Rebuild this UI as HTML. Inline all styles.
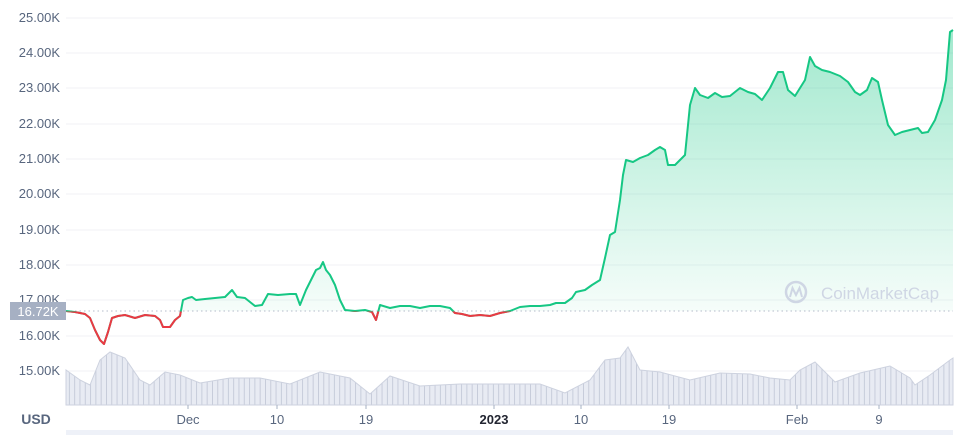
<!DOCTYPE html><html><head><style>body{margin:0;background:#fff}svg{display:block;font-family:"Liberation Sans",sans-serif}</style></head><body>
<svg width="975" height="435" viewBox="0 0 975 435">
<defs>
<linearGradient id="gg" x1="0" y1="30" x2="0" y2="311" gradientUnits="userSpaceOnUse"><stop offset="0" stop-color="#16c784" stop-opacity="0.4"/><stop offset="1" stop-color="#16c784" stop-opacity="0.04"/></linearGradient>
<pattern id="vp" width="5.3" height="10" patternUnits="userSpaceOnUse"><rect width="5.3" height="10" fill="#e8ebf3"/><rect x="0" width="0.9" height="10" fill="#c4c9d8"/></pattern>
<clipPath id="above"><rect x="0" y="0" width="975" height="311"/></clipPath>
<clipPath id="below"><rect x="0" y="311.5" width="975" height="100"/></clipPath>
</defs>
<g stroke="#f1f2f6" stroke-width="1">
<line x1="66" x2="953" y1="18" y2="18"/><line x1="66" x2="953" y1="53" y2="53"/><line x1="66" x2="953" y1="88" y2="88"/><line x1="66" x2="953" y1="124" y2="124"/><line x1="66" x2="953" y1="159" y2="159"/><line x1="66" x2="953" y1="194" y2="194"/><line x1="66" x2="953" y1="230" y2="230"/><line x1="66" x2="953" y1="265" y2="265"/><line x1="66" x2="953" y1="300" y2="300"/><line x1="66" x2="953" y1="336" y2="336"/><line x1="66" x2="953" y1="371" y2="371"/>
</g>
<g fill="#58667e" font-size="13" text-anchor="end">
<text x="60" y="22">25.00K</text><text x="60" y="57">24.00K</text><text x="60" y="92">23.00K</text><text x="60" y="128">22.00K</text><text x="60" y="163">21.00K</text><text x="60" y="198">20.00K</text><text x="60" y="234">19.00K</text><text x="60" y="269">18.00K</text><text x="60" y="304">17.00K</text><text x="60" y="340">16.00K</text><text x="60" y="375">15.00K</text>
</g>
<path d="M66 405 L66 370 L80 380 L90 385 L100 360 L110 352 L125 358 L140 380 L150 385 L165 372 L180 375 L200 383 L230 378 L260 378 L290 384 L320 372 L350 378 L370 394 L390 376 L420 386 L460 384 L500 384 L540 384 L565 393 L590 380 L605 360 L620 358 L628 347 L640 370 L660 372 L690 380 L720 373 L750 374 L770 378 L790 380 L800 370 L815 362 L835 382 L860 373 L890 366 L910 378 L915 385 L930 375 L950 360 L953 358 L953 405 Z" fill="url(#vp)" stroke="#cdd2df" stroke-width="1"/>
<path d="M66 311 L75 312 L85 314 L90 318 L95 330 L100 340 L104 344 L108 332 L112 318 L118 316 L125 315 L135 318 L145 315 L155 316 L160 320 L163 327 L170 327 L175 320 L180 316 L183 300 L188 298 L192 297 L196 300 L205 299 L215 298 L225 297 L232 290 L237 297 L245 298 L255 306 L262 305 L268 294 L278 295 L290 294 L296 294 L300 305 L306 290 L312 278 L316 270 L320 268 L323 262 L326 270 L330 275 L335 285 L340 300 L345 310 L355 311 L365 310 L372 312 L376 320 L380 305 L390 308 L400 306 L410 306 L420 308 L430 306 L440 306 L450 308 L455 313 L462 314 L470 316 L480 315 L490 316 L500 313 L510 311 L520 307 L530 306 L540 306 L550 305 L556 303 L565 303 L572 298 L576 292 L585 290 L592 285 L600 280 L605 258 L610 235 L615 232 L620 200 L623 175 L626 160 L633 162 L640 158 L648 155 L655 150 L660 147 L665 150 L668 165 L675 165 L680 160 L685 155 L690 105 L695 88 L700 95 L708 98 L715 93 L722 97 L730 96 L740 88 L748 92 L755 94 L762 100 L770 88 L778 72 L783 72 L788 90 L795 96 L800 88 L805 80 L810 57 L815 66 L822 70 L830 72 L840 76 L848 82 L855 92 L860 95 L867 90 L872 78 L878 82 L882 100 L888 125 L895 135 L902 132 L910 130 L918 128 L922 133 L928 132 L935 120 L942 100 L946 80 L950 32 L953 30 L953 311 L66 311 Z" fill="url(#gg)" clip-path="url(#above)"/>
<text x="880" y="299" font-size="17" fill="#cfd6e4" text-anchor="middle">CoinMarketCap</text>
<circle cx="796" cy="292" r="10" fill="none" stroke="#cfd6e4" stroke-width="2.5"/>
<path d="M790 297 L792.5 288 L796 295 L799.5 288 L802 297" fill="none" stroke="#cfd6e4" stroke-width="2"/>
<line x1="66" x2="953" y1="311" y2="311" stroke="#b5bccb" stroke-dasharray="1.5 3"/>
<path d="M66 311 L75 312 L85 314 L90 318 L95 330 L100 340 L104 344 L108 332 L112 318 L118 316 L125 315 L135 318 L145 315 L155 316 L160 320 L163 327 L170 327 L175 320 L180 316 L183 300 L188 298 L192 297 L196 300 L205 299 L215 298 L225 297 L232 290 L237 297 L245 298 L255 306 L262 305 L268 294 L278 295 L290 294 L296 294 L300 305 L306 290 L312 278 L316 270 L320 268 L323 262 L326 270 L330 275 L335 285 L340 300 L345 310 L355 311 L365 310 L372 312 L376 320 L380 305 L390 308 L400 306 L410 306 L420 308 L430 306 L440 306 L450 308 L455 313 L462 314 L470 316 L480 315 L490 316 L500 313 L510 311 L520 307 L530 306 L540 306 L550 305 L556 303 L565 303 L572 298 L576 292 L585 290 L592 285 L600 280 L605 258 L610 235 L615 232 L620 200 L623 175 L626 160 L633 162 L640 158 L648 155 L655 150 L660 147 L665 150 L668 165 L675 165 L680 160 L685 155 L690 105 L695 88 L700 95 L708 98 L715 93 L722 97 L730 96 L740 88 L748 92 L755 94 L762 100 L770 88 L778 72 L783 72 L788 90 L795 96 L800 88 L805 80 L810 57 L815 66 L822 70 L830 72 L840 76 L848 82 L855 92 L860 95 L867 90 L872 78 L878 82 L882 100 L888 125 L895 135 L902 132 L910 130 L918 128 L922 133 L928 132 L935 120 L942 100 L946 80 L950 32 L953 30" fill="none" stroke="#16c784" stroke-width="2" stroke-linejoin="round"/>
<path clip-path="url(#below)" d="M66 311 L75 312 L85 314 L90 318 L95 330 L100 340 L104 344 L108 332 L112 318 L118 316 L125 315 L135 318 L145 315 L155 316 L160 320 L163 327 L170 327 L175 320 L180 316 L183 300 L188 298 L340 300 L345 310 L355 311 L365 310 L372 312 L376 320 L380 305 L390 308 L450 308 L455 313 L462 314 L470 316 L480 315 L490 316 L500 313 L510 311 L520 307" fill="none" stroke="#ea3943" stroke-width="2" stroke-linejoin="round"/>
<rect x="66" y="430" width="887" height="5" fill="#eef1f8"/>
<g stroke="#a6b0c3"><line x1="188" x2="188" y1="405" y2="409"/><line x1="277" x2="277" y1="405" y2="409"/><line x1="366" x2="366" y1="405" y2="409"/><line x1="494" x2="494" y1="405" y2="409"/><line x1="581" x2="581" y1="405" y2="409"/><line x1="669" x2="669" y1="405" y2="409"/><line x1="797" x2="797" y1="405" y2="409"/><line x1="879" x2="879" y1="405" y2="409"/></g>
<g fill="#58667e" font-size="13" text-anchor="middle">
<text x="188" y="424">Dec</text><text x="277" y="424">10</text><text x="366" y="424">19</text><text x="494" y="424" font-weight="bold" fill="#222531">2023</text><text x="581" y="424">10</text><text x="669" y="424">19</text><text x="797" y="424">Feb</text><text x="879" y="424">9</text>
</g>
<text x="36" y="424" font-size="14" font-weight="bold" fill="#58667e" text-anchor="middle">USD</text>
<rect x="10" y="302" width="56" height="18" fill="#a6b0c3"/>
<text x="38" y="316" font-size="13" fill="#fff" text-anchor="middle">16.72K</text>
</svg></body></html>
